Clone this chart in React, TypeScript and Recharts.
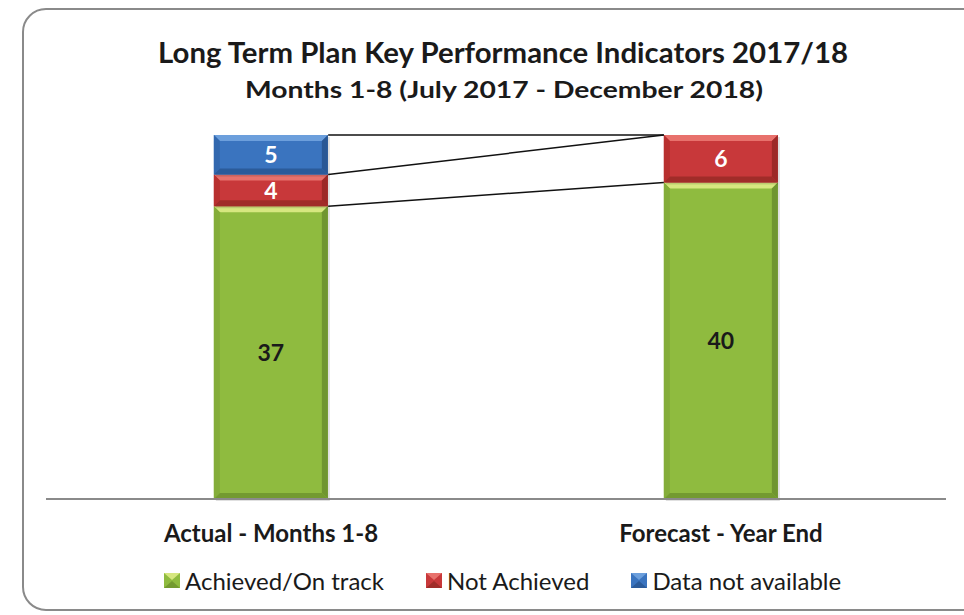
import { Bar, BarChart, LabelList, ReferenceLine, XAxis, YAxis } from 'recharts';

const categories = ['Actual - Months 1-8', 'Forecast - Year End'];
const achieved = [37, 40];
const notAchieved = [4, 6];
const notAvailable = [5, 0];

const seriesNames = ['Achieved/On track', 'Not Achieved', 'Data not available'];

// Bar occupies the middle quarter of each band; GAP is the side gap as a fraction of the band.
const GAP = 0.373;
const FONT = 'Lato, "Open Sans", sans-serif';

type Shade = { base: string; top: string; left: string; right: string; bottom: string };

const GREEN: Shade = { base: '#8fbb3f', top: '#d6e77f', left: '#84ad39', right: '#6f9530', bottom: '#739a30' };
const RED: Shade = { base: '#c8383a', top: '#e8716c', left: '#b8302f', right: '#9c2927', bottom: '#a02c29' };
const BLUE: Shade = { base: '#3a74bf', top: '#6c9fdc', left: '#3268af', right: '#2a5895', bottom: '#2b5b9a' };

const rows = categories.map((name, i) => ({
  name,
  achieved: achieved[i],
  notAchieved: notAchieved[i],
  notAvailable: notAvailable[i],
}));

// running tops of each stack segment, used for the Excel-style series lines
const tops = categories.map((_, i) => [
  achieved[i],
  achieved[i] + notAchieved[i],
  achieved[i] + notAchieved[i] + notAvailable[i],
]);

// series lines run on a hidden 0..1 axis spanning the whole plot width:
// from the right edge of bar 1 to the left edge of bar 2
const n = categories.length;
const lineFrom = (1 - GAP) / n;
const lineTo = (1 + GAP) / n;

function BevelBar(props: any) {
  const { x, y, width: w, height: h, shade } = props;
  if (!h || h <= 0) return null;
  const b = Math.min(6, h / 3);
  const s: Shade = shade;
  return (
    <g>
      <rect x={x + 2} y={y + 2} width={w} height={h} fill="#000" opacity={0.12} />
      <rect x={x} y={y} width={w} height={h} fill={s.base} />
      <polygon points={`${x},${y} ${x + w},${y} ${x + w - b},${y + b} ${x + b},${y + b}`} fill={s.top} />
      <polygon points={`${x},${y} ${x + b},${y + b} ${x + b},${y + h - b} ${x},${y + h}`} fill={s.left} />
      <polygon
        points={`${x + w},${y} ${x + w},${y + h} ${x + w - b},${y + h - b} ${x + w - b},${y + b}`}
        fill={s.right}
      />
      <polygon
        points={`${x},${y + h} ${x + b},${y + h - b} ${x + w - b},${y + h - b} ${x + w},${y + h}`}
        fill={s.bottom}
      />
    </g>
  );
}

function CategoryTick(props: any) {
  const { x, y, payload } = props;
  return (
    <text x={x} y={y + 43} textAnchor="middle" fontSize={24} fontWeight={700} fill="#1a1a1a" fontFamily={FONT}>
      {payload.value}
    </text>
  );
}

function LegendSwatch({ shade }: { shade: Shade }) {
  return (
    <svg width={16} height={15} style={{ verticalAlign: 'middle', marginRight: 5 }}>
      <rect x={0} y={0} width={16} height={15} fill={shade.base} />
      <polygon points="0,0 16,0 8,7" fill={shade.top} />
      <polygon points="0,15 16,15 8,8" fill={shade.bottom} />
    </svg>
  );
}

const hideZero = (v: any) => (v ? v : '');

export default function App() {
  const shades = [GREEN, RED, BLUE];
  return (
    <div style={{ position: 'absolute', left: 0, top: 0, width: 964, height: 615, overflow: 'hidden', fontFamily: FONT }}>
      <div
        style={{
          position: 'absolute',
          left: 22,
          top: 8,
          width: 980,
          height: 603,
          border: '2px solid #8a8a8a',
          borderRadius: 24,
          boxSizing: 'border-box',
        }}
      />
      <svg width={964} height={110} style={{ position: 'absolute', left: 0, top: 0 }}>
        <text x={503} y={63} textAnchor="middle" fontSize={28} fontWeight={700} fill="#1a1a1a" textLength={690} lengthAdjust="spacingAndGlyphs">
          Long Term Plan Key Performance Indicators 2017/18
        </text>
        <text x={504} y={98} textAnchor="middle" fontSize={23} fontWeight={700} fill="#1a1a1a" textLength={518} lengthAdjust="spacingAndGlyphs">
          Months 1-8 (July 2017 - December 2018)
        </text>
      </svg>
      <BarChart
        width={964}
        height={615}
        data={rows}
        margin={{ top: 135, right: 18, bottom: 86, left: 46 }}
        barCategoryGap={`${GAP * 100}%`}
        style={{ position: 'absolute', left: 0, top: 0 }}
      >
        <XAxis
          dataKey="name"
          height={30}
          tickSize={0}
          tickMargin={0}
          tickLine={false}
          axisLine={{ stroke: '#8a8a8a', strokeWidth: 2 }}
          tick={<CategoryTick />}
        />
        <XAxis xAxisId="line" type="number" domain={[0, 1]} allowDataOverflow hide />
        <YAxis domain={[0, 46]} hide />
        <Bar dataKey="achieved" stackId="k" isAnimationActive={false} shape={(p: any) => <BevelBar {...p} shade={GREEN} />}>
          <LabelList dataKey="achieved" position="center" fill="#1a1a1a" fontSize={23} fontWeight={700} fontFamily={FONT} formatter={hideZero} />
        </Bar>
        <Bar dataKey="notAchieved" stackId="k" isAnimationActive={false} shape={(p: any) => <BevelBar {...p} shade={RED} />}>
          <LabelList dataKey="notAchieved" position="center" fill="#fff" fontSize={23} fontWeight={700} fontFamily={FONT} formatter={hideZero} />
        </Bar>
        <Bar dataKey="notAvailable" stackId="k" isAnimationActive={false} shape={(p: any) => <BevelBar {...p} shade={BLUE} />}>
          <LabelList dataKey="notAvailable" position="center" fill="#fff" fontSize={23} fontWeight={700} fontFamily={FONT} formatter={hideZero} />
        </Bar>
        {tops[0].map((t, k) => (
          <ReferenceLine
            key={k}
            xAxisId="line"
            ifOverflow="visible"
            segment={[
              { x: lineFrom, y: t },
              { x: lineTo, y: tops[1][k] },
            ]}
            stroke="#111"
            strokeWidth={1.5}
          />
        ))}
      </BarChart>
      <div
        style={{
          position: 'absolute',
          top: 566,
          left: 164,
          display: 'flex',
          alignItems: 'center',
          fontSize: 24,
          color: '#1a1a1a',
          whiteSpace: 'nowrap',
        }}
      >
        {seriesNames.map((s, i) => (
          <span key={s} style={{ display: 'inline-flex', alignItems: 'center', marginRight: i < 2 ? 42 : 0 }}>
            <LegendSwatch shade={shades[i]} />
            {s}
          </span>
        ))}
      </div>
    </div>
  );
}
